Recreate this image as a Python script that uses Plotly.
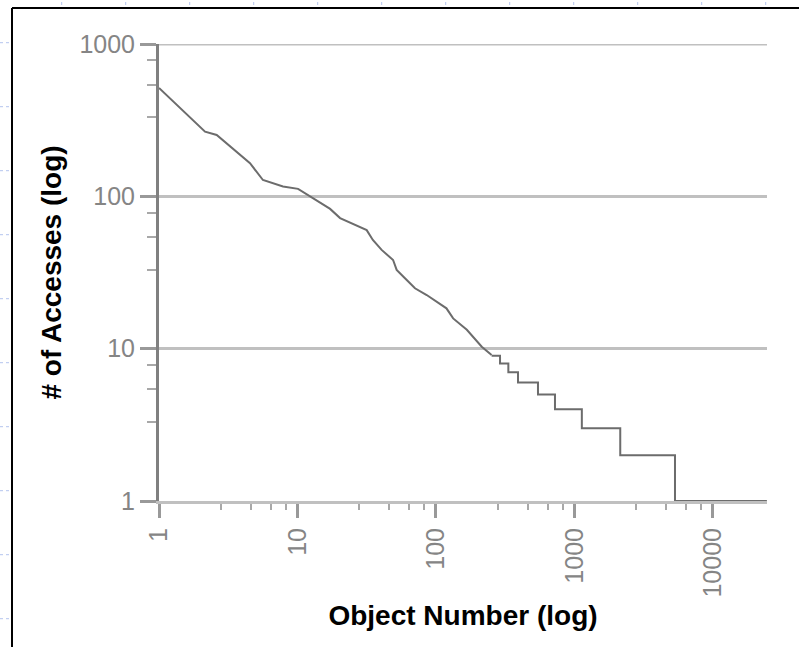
import plotly.graph_objects as go

# ---- data ----
rank_top = [1, 2.15, 2.61, 3.64, 4.54, 5.63, 7.86, 10.1, 12.3, 17.2, 20.3, 26, 31.6, 35,
            40.5, 49, 52, 59.7, 70.5, 85.7, 101, 119, 133, 167, 214, 252]
accesses_top = [515, 266, 253, 197, 165, 128, 116, 112, 100, 82.7, 72, 64.9, 60, 51.7,
                44.5, 38.2, 32.9, 29, 24.9, 22.5, 20.4, 18.4, 15.8, 13.3, 10.3, 9.1]

rank_steps = [252, 290, 333, 391, 545, 723, 1130, 2140, 5317, 24500]
accesses_steps = [9, 8, 7, 6, 5, 4, 3, 2, 1, 1]

x_ticks = [1, 10, 100, 1000, 10000]
x_ticktext = ["1", "10", "100", "1000", "10000"]
y_ticks = [1, 10, 100, 1000]
y_ticktext = ["1", "10", "100", "1000"]
x_minor_mult = [2.8, 4.6, 6.4, 8.2]
y_minor_mult = [3.3, 5.4, 7.8]

x_minor = [m * d for d in [1, 10, 100, 1000, 10000] for m in x_minor_mult]
y_minor = [m * d for d in [1, 10, 100] for m in y_minor_mult]

LINE = "#6c6c6c"
GRID = "#c0c0c0"
FONT = "Liberation Sans, Arial, sans-serif"

fig = go.Figure()
fig.add_trace(go.Scatter(x=rank_top, y=accesses_top, mode="lines",
                         line=dict(color=LINE, width=2), hoverinfo="skip"))
fig.add_trace(go.Scatter(x=rank_steps, y=accesses_steps, mode="lines",
                         line=dict(color=LINE, width=2, shape="hv"), hoverinfo="skip"))

fig.update_layout(
    width=799, height=647,
    margin=dict(l=159, r=32, t=44, b=146),
    paper_bgcolor="white", plot_bgcolor="white",
    showlegend=False,
    font=dict(family=FONT),
)

fig.update_xaxes(
    type="log", range=[0, 4.39],
    tickmode="array", tickvals=x_ticks, ticktext=x_ticktext,
    tickangle=-90, tickfont=dict(size=25, color="#858585", family=FONT),
    ticks="outside", ticklen=14, tickwidth=3, tickcolor="#999999",
    showline=True, linecolor=GRID, linewidth=3,
    showgrid=False, zeroline=False,
    minor=dict(tickmode="array", tickvals=x_minor, ticks="outside",
               ticklen=6, tickwidth=2, tickcolor="#a8a8a8", showgrid=False),
    title=dict(text="<b>Object Number (log)</b>",
               font=dict(size=28, color="black", family=FONT), standoff=9),
)
fig.update_yaxes(
    type="log", range=[0, 3],
    tickmode="array", tickvals=y_ticks, ticktext=y_ticktext,
    tickfont=dict(size=25, color="#858585", family=FONT),
    ticks="outside", ticklen=16, tickwidth=3, tickcolor="#999999",
    showline=True, linecolor="#808080", linewidth=3,
    showgrid=True, gridcolor=GRID, gridwidth=3, zeroline=False,
    minor=dict(tickmode="array", tickvals=y_minor, ticks="outside",
               ticklen=9, tickwidth=2, tickcolor="#a8a8a8", showgrid=False),
    title=dict(text="<b># of Accesses (log)</b>",
               font=dict(size=28, color="black", family=FONT), standoff=10),
)

# gridline at the top tick (plotly omits grid lines lying on the plot edge)
fig.add_shape(type="line", xref="paper", yref="y", layer="below",
              x0=0, x1=1, y0=y_ticks[-1], y1=y_ticks[-1],
              line=dict(color=GRID, width=3))

# frame around the chart (partially outside the visible page)
PW, PH, L, T = 608, 457, 159, 44
def px(xp):
    return (xp - L) / PW
def py(yp):
    return (T + PH - yp) / PH

fig.add_shape(type="line", xref="paper", yref="paper",
              x0=px(12), x1=px(812), y0=py(8), y1=py(8),
              line=dict(color="black", width=2))
fig.add_shape(type="line", xref="paper", yref="paper",
              x0=px(12), x1=px(12), y0=py(8), y1=py(660),
              line=dict(color="black", width=2))

# faint page ruler marks
for k in range(10):
    yy = 42.7 + 64 * k
    if yy < 647:
        fig.add_shape(type="line", xref="paper", yref="paper",
                      x0=px(0), x1=px(10), y0=py(yy), y1=py(yy),
                      line=dict(color="#b4c4ee", width=1, dash="dot"))
for k in range(13):
    xx = 61.7 + 64 * k
    if xx < 799:
        fig.add_shape(type="line", xref="paper", yref="paper",
                      x0=px(xx), x1=px(xx), y0=py(2), y1=py(5),
                      line=dict(color="#b4c4ee", width=1))

fig.write_html("out.html")
